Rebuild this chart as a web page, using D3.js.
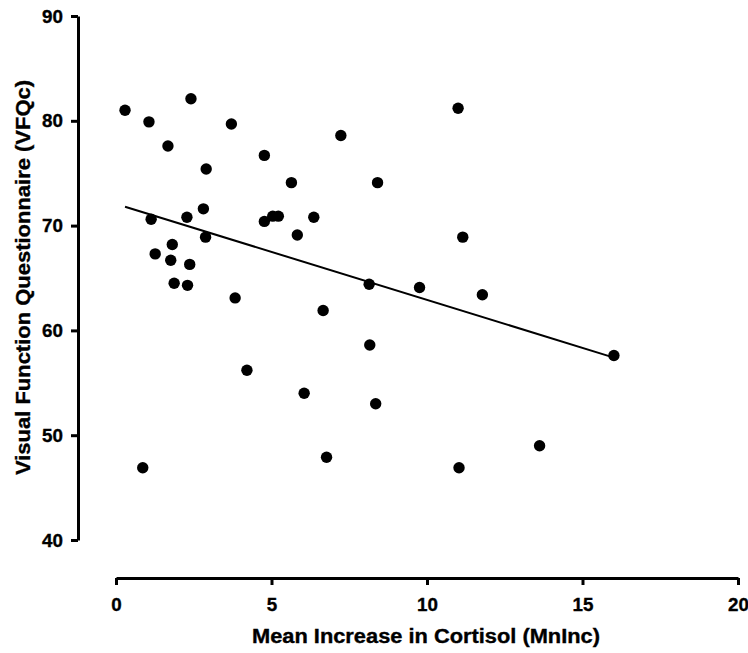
<!DOCTYPE html>
<html>
<head>
<meta charset="utf-8">
<script src="https://cdn.jsdelivr.net/npm/d3@7"></script>
<style>
  body { margin: 0; background: #fff; }
  svg text { font-family: "Liberation Sans", Arial, sans-serif; font-weight: bold; fill: #000; stroke: #000; stroke-width: 0.35px; }
</style>
</head>
<body>
<svg id="chart" width="748" height="653"></svg>
<script>
// cortisol increase (MnInc) for each subject
const mnInc = [0.29, 2.41, 1.06, 3.71, 1.67, 7.23, 4.77, 2.90, 5.64, 8.41,
  11.0, 2.81, 1.13, 2.28, 4.77, 5.04, 5.22, 6.36, 5.83, 2.88,
  11.15, 1.81, 1.26, 1.76, 2.37, 1.87, 2.30, 8.14, 9.76, 11.78,
  3.83, 6.66, 8.16, 16.01, 4.21, 6.05, 8.35, 13.62, 6.77, 0.86, 11.03];
// visual function questionnaire score (VFQc) for each subject
const vfqc = [81.0, 82.1, 79.9, 79.7, 77.6, 78.6, 76.7, 75.4, 74.1, 74.1,
  81.2, 71.6, 70.6, 70.8, 70.4, 70.9, 70.9, 70.8, 69.1, 68.9,
  68.9, 68.2, 67.3, 66.7, 66.3, 64.5, 64.3, 64.4, 64.1, 63.4,
  63.1, 61.9, 58.6, 57.6, 56.2, 54.0, 53.0, 49.0, 47.9, 46.9, 46.9];

// fitted line
const fitIntercept = 72.07;
const fitSlope = -0.916;

const xTicks = [0, 5, 10, 15, 20];
const yTicks = [40, 50, 60, 70, 80, 90];

const svg = d3.select('#chart');

const xScale = d3.scaleLinear().domain([0, 20]).range([116, 738]);
const yScale = d3.scaleLinear().domain([40, 90]).range([540, 16]);

const points = mnInc.map((x, i) => ({ x: x, y: vfqc[i] }));

// axes
svg.append('g')
  .attr('class', 'x axis')
  .attr('transform', 'translate(0, 578)')
  .call(d3.axisBottom(xScale).tickValues(xTicks).tickSize(7).tickPadding(13).tickSizeOuter(0));

svg.append('g')
  .attr('class', 'y axis')
  .attr('transform', 'translate(78, 0)')
  .call(d3.axisLeft(yScale).tickValues(yTicks).tickSize(7).tickPadding(8).tickSizeOuter(0));

svg.selectAll('.axis path, .axis line')
  .attr('stroke', '#000')
  .attr('stroke-width', 3);
svg.selectAll('.axis text')
  .style('font-size', '18.8px');

// fit line
const xs = d3.extent(mnInc);
svg.append('line')
  .attr('x1', xScale(xs[0]))
  .attr('y1', yScale(fitIntercept + fitSlope * xs[0]))
  .attr('x2', xScale(xs[1]))
  .attr('y2', yScale(fitIntercept + fitSlope * xs[1]))
  .attr('stroke', '#000')
  .attr('stroke-width', 2);

// points
svg.append('g')
  .selectAll('circle')
  .data(points)
  .enter()
  .append('circle')
  .attr('cx', d => xScale(d.x))
  .attr('cy', d => yScale(d.y))
  .attr('r', 5.7)
  .attr('fill', '#000');

// axis titles
svg.append('text')
  .attr('x', 426)
  .attr('y', 643)
  .attr('text-anchor', 'middle')
  .attr('textLength', 348)
  .attr('lengthAdjust', 'spacingAndGlyphs')
  .style('font-size', '20px')
  .text('Mean Increase in Cortisol (MnInc)');

svg.append('text')
  .attr('transform', 'translate(30, 277.5) rotate(-90)')
  .attr('text-anchor', 'middle')
  .attr('textLength', 395)
  .attr('lengthAdjust', 'spacingAndGlyphs')
  .style('font-size', '20px')
  .text('Visual Function Questionnaire (VFQc)');
</script>
</body>
</html>
